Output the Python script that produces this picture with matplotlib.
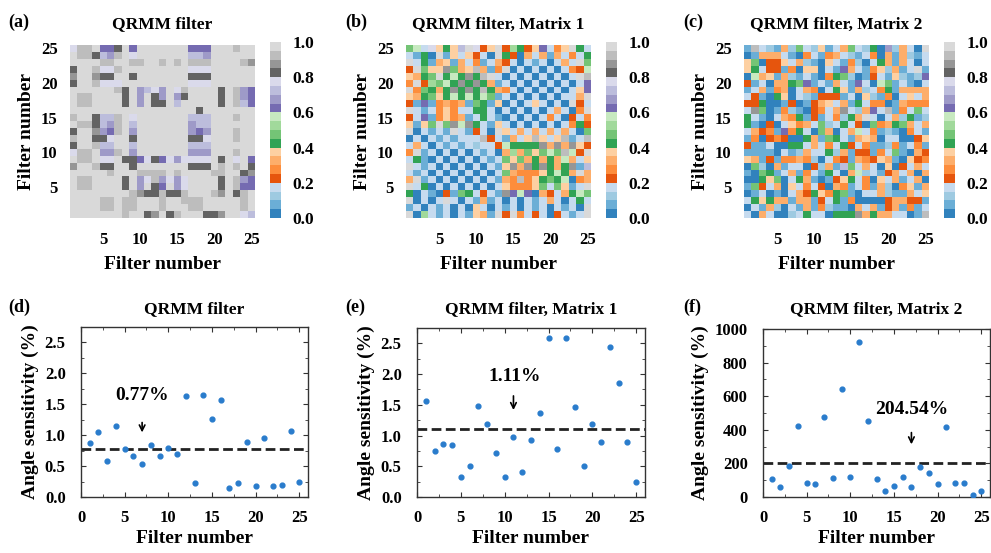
import numpy as np
import matplotlib.pyplot as plt
from matplotlib.ticker import MultipleLocator

plt.rcParams['font.family'] = ['Liberation Serif', 'DejaVu Serif']
plt.rcParams['font.weight'] = 'bold'
plt.rcParams['axes.labelweight'] = 'bold'

# colour level of each cell (index into tab20c, 0..19), rows from filter 25 down to 1
LEVELS = "0123456789abcdefghij"

qrmm_rows = [
    "fiijccgjcjjjjjjjcccjjjijj",
    "jiigedijfjjjjjjjeedjjjjjj",
    "jjjjiijjiijjijijiiijjjjih",
    "gjjiffijjjjjjjjjfffjjjjjj",
    "hjjhggjjgjjjjjjjgggjjjjjj",
    "gjjifffjjjjjjjjjfffjjjjjj",
    "jjjjjjigjdefdjfijjjjgjidc",
    "jiijjjjgjdjgdjdgjjjjgjidc",
    "jiijjjjgjdjggjejjjjjgjiec",
    "jjjjjjjjjjjjjjjjjgjjjjjjj",
    "ijjgeeijfjjjjjjjeeejjjijj",
    "jiigedijejjjjjjjdeejjjjjj",
    "gjjhdcijdjjjjjjjdcdjjjijj",
    "ijjggfjjgjjjjjjjggfjjjijj",
    "gjjieejjejjjjjjjeeejjjjjj",
    "fiijddijdjjjjjjjdddjjjijj",
    "jiijffjggcfgcfdffffjgjfjc",
    "hjjiggjjgjjjjjjjgggjijijg",
    "jjjjjijjjiiiijijjjjiijjgh",
    "jiijjjjgjdfidfdfjjjjgjidc",
    "jiijjjjgjdjgcjdfjjjjgjicc",
    "jjjjjjjjihggiggijjjihjgij",
    "jjjjiijiijjjijjiiijjjjjij",
    "jjjjiijiijjjijjjiijjjjjij",
    "jjjjjjjijjghjgijjjgghjjfe",
]

m1_rows = [
    "9b3f787ejf47j4a847c357j83",
    "3180j1737430j840636163538",
    "j3816716351364303130363j9",
    "4j977h967i615j0303030354b",
    "7689j8b8h8ij30303030303ji",
    "5j4a9b8h8h86130303030303c",
    "j59868h8h8i8653030303037c",
    "768978b8b8b9130303030336j8"[:25],
    "41c1565619817030373030j43",
    "j31357533883030303036305j",
    "43c1575613831030303530435",
    "7179j9hbh8317303030303584",
    "j03131j31430j736363636309",
    "0303131333i431637i737i13i",
    "3630313132334b8888h6h6h74",
    "5j130303031306a6979b9ib4j",
    "3810303030313979686 86b637".replace(" ", "")[:25],
    "j3130303030317h6h8h868h1e",
    "31303030303039655578b86j6",
    "6j1303030303165i57898b056",
    "j3803030303037555793 9713j".replace(" ", "")[:25],
    "8031041983431hcbc064368b9",
    "j0303j3031613030313630383",
    "13031303073031303130 3130j".replace(" ", "")[:25],
    "j0a313031761j4j534304313j",
]

m2_rows = [
    "1i32162932713693280d2630j",
    "0166631053156321350616213",
    "7904473621073152038616303",
    "7834415077031c631572613j1",
    "0b671621310589201431 7212c".replace(" ", "")[:25],
    "41306689c131631c30b913103",
    "1361560365038716235816666",
    "3410870321444130721503736",
    "4480014014673618355016555",
    "3h90152104536h326c3i15393",
    "831036581413528 6j30362812".replace(" ", "")[:25],
    "8104037563923834095689636",
    "36451c583096036b351210531",
    "1504540086198316760330047",
    "4113008836353843511251351",
    "1111031263382614415391064",
    "7614155652035416547610745",
    "0920613304261e93630704363",
    "1098136153183 06b231463606".replace(" ", "")[:25],
    "0087903861014783507361360",
    "1943607353406513516205716",
    "0130103648758910336211637",
    "3878661661438150000466441",
    "0316203161521106361461513",
    "306300238330888h68663301i",
]

filters = list(range(1, 26))
sens_qrmm = [0.88, 1.05, 0.58, 1.15, 0.77, 0.67, 0.53, 0.84, 0.67, 0.79, 0.70, 1.64, 0.23,
             1.65, 1.26, 1.57, 0.15, 0.22, 0.89, 0.18, 0.96, 0.18, 0.20, 1.07, 0.25]
sens_m1 = [1.56, 0.75, 0.86, 0.85, 0.32, 0.50, 1.48, 1.19, 0.71, 0.32, 0.97, 0.41, 0.92,
           1.37, 2.58, 0.78, 2.58, 1.46, 0.50, 1.19, 0.90, 2.44, 1.86, 0.90, 0.24]
sens_m2 = [109, 59, 182, 420, 81, 77, 479, 111, 644, 117, 921, 450, 105,
           36, 67, 121, 59, 180, 145, 75, 414, 83, 83, 14, 36]
mean_vals = [0.77, 1.11, 204.54]
mean_labels = ["0.77%", "1.11%", "204.54%"]


def decode(rows):
    return np.array([[(LEVELS.index(ch) + 0.5) / 20 for ch in r] for r in rows])


W, H = 991, 553
fig = plt.figure(figsize=(W / 100, H / 100), dpi=100)


def px_axes(left, top, right, bottom):
    return fig.add_axes([left / W, 1 - bottom / H, (right - left) / W, (bottom - top) / H])


mats = [decode(qrmm_rows), decode(m1_rows), decode(m2_rows)]
titles = ["QRMM filter", "QRMM filter, Matrix 1", "QRMM filter, Matrix 2"]
hm_left = [70, 406, 744]
cb_left = [270, 606, 944]
labels_top = ["(a)", "(b)", "(c)"]
labels_bot = ["(d)", "(e)", "(f)"]
lab_x = [8, 345, 683]

for i in range(3):
    ax = px_axes(hm_left[i], 45, hm_left[i] + 185, 218)
    im = ax.imshow(mats[i], cmap='tab20c', vmin=0, vmax=1, origin='upper',
                   extent=(0.5, 25.5, 0.5, 25.5), aspect='auto', interpolation='nearest')
    ax.set_xticks([5, 10, 15, 20, 25])
    ax.set_yticks([5, 10, 15, 20, 25])
    ax.tick_params(axis='x', length=0, labelsize=12, pad=10)
    ax.tick_params(axis='y', length=0, labelsize=12, pad=9)
    for s in ax.spines.values():
        s.set_visible(False)
    ax.set_xlabel("Filter number", fontsize=14, labelpad=6)
    ax.set_ylabel("Filter number", fontsize=14, labelpad=4)
    cax = px_axes(cb_left[i], 42, cb_left[i] + 11, 218)
    cb = fig.colorbar(im, cax=cax, ticks=[0, 0.2, 0.4, 0.6, 0.8, 1.0])
    cb.outline.set_visible(False)
    cb.ax.tick_params(length=0, labelsize=12.5, pad=8)
    cb.ax.set_yticklabels(["0.0", "0.2", "0.4", "0.6", "0.8", "1.0"])
    fig.text((hm_left[i] + 92) / W, 1 - 24 / H, titles[i], ha='center', va='center', fontsize=12.5)
    fig.text(lab_x[i] / W, 1 - 22 / H, labels_top[i], ha='left', va='center', fontsize=13)

# bottom scatter panels
sens = [sens_qrmm, sens_m1, sens_m2]
box = [(81, 327, 308, 497), (417, 328, 645, 497), (763, 329, 990, 497)]
ylims = [(0, 2.75), (0, 2.75), (0, 1000)]
ymaj = [0.5, 0.5, 200]
ymin = [0.25, 0.25, 100]
note = [(7, 1.64, 1.25, 1.0), (11.1, 1.96, 1.69, 1.37), (17, 519, 400, 297)]

for i in range(3):
    ax = px_axes(*box[i])
    ax.scatter(filters, sens[i], s=12, color='#2a7ccc', zorder=3)
    ax.axhline(mean_vals[i], color='#222222', lw=2, dashes=(3.5, 1.6))
    ax.set_xlim(0, 26)
    ax.set_ylim(*ylims[i])
    ax.xaxis.set_major_locator(MultipleLocator(5))
    ax.xaxis.set_minor_locator(MultipleLocator(2.5))
    ax.yaxis.set_major_locator(MultipleLocator(ymaj[i]))
    ax.yaxis.set_minor_locator(MultipleLocator(ymin[i]))
    if i < 2:
        ax.set_yticks([0, 0.5, 1.0, 1.5, 2.0, 2.5])
        ax.set_yticklabels(["0.0", "0.5", "1.0", "1.5", "2.0", "2.5"])
    ax.tick_params(which='both', direction='in', top=True, right=True, labelsize=12, color='#333333')
    ax.tick_params(which='major', length=3.5, width=0.8)
    ax.tick_params(which='minor', length=2, width=0.6)
    ax.tick_params(axis='x', which='major', pad=9)
    ax.tick_params(axis='y', which='major', pad=11)
    for s in ax.spines.values():
        s.set_color('#333333')
        s.set_linewidth(1.0)
    ax.set_xlabel("Filter number", fontsize=14, labelpad=3)
    ax.set_ylabel("Angle sensitivity (%)", fontsize=14, labelpad=4)
    x, yt, y0, y1 = note[i]
    ax.text(x, yt, mean_labels[i], ha='center', va='center', fontsize=14)
    ax.annotate('', xy=(round(x), y1), xytext=(round(x), y0),
                arrowprops=dict(arrowstyle='->', lw=1.2, color='black'))
    cx = (box[i][0] + box[i][2]) / 2
    fig.text(cx / W, 1 - 309 / H, titles[i], ha='center', va='center', fontsize=12.5)
    fig.text(lab_x[i] / W, 1 - 307 / H, labels_bot[i], ha='left', va='center', fontsize=13)

fig.savefig("out.png", dpi=100)
